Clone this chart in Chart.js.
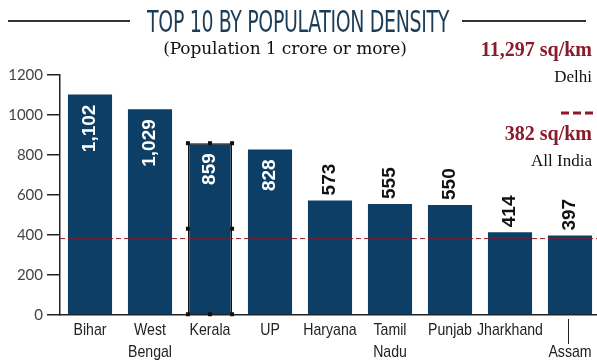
<!DOCTYPE html>
<html>
<head>
<meta charset="utf-8">
<script src="https://cdn.jsdelivr.net/npm/chart.js@4"></script>
<style>
  html, body { margin: 0; padding: 0; background: #fff; }
  #wrap { position: relative; width: 597px; height: 364px; overflow: hidden; }
  #chart { position: absolute; left: 0; top: 0; }
  .txt { position: absolute; white-space: nowrap; line-height: 1; }
  .title {
    left: 0; width: 597px; top: 6px; text-align: center;
    font-family: "DejaVu Sans Condensed", sans-serif;
    font-size: 31px; color: #1c3d57;
  }
  .title span { display: inline-block; transform: scaleX(0.68); letter-spacing: -0.5px; }
  .rule { position: absolute; height: 1.5px; background: #333; top: 20px; }
  .sub {
    left: 0; width: 570px; top: 40px; text-align: center;
    font-family: "DejaVu Serif", serif; font-size: 17px; color: #111; letter-spacing: -0.1px;
  }
  .red { right: 5px; font-family: "Liberation Serif", serif; font-weight: bold; font-size: 20px; color: #8b1a2b; }
  .blk { right: 5px; font-family: "Liberation Serif", serif; font-size: 17px; color: #111; }
</style>
</head>
<body>
<div id="wrap">
  <canvas id="chart" width="605" height="364"></canvas>
  <div class="rule" style="left:8px;width:122px"></div>
  <div class="rule" style="left:462px;width:124px"></div>
  <div class="txt title"><span>TOP 10 BY POPULATION DENSITY</span></div>
  <div class="txt sub">(Population 1 crore or more)</div>
  <div class="txt red" style="top:39px">11,297 sq/km</div>
  <div class="txt blk" style="top:68px">Delhi</div>
  <div class="txt red" style="top:123px">382 sq/km</div>
  <div class="txt blk" style="top:152px">All India</div>
</div>
<script>
'use strict';

/* ─── 데이터 ─── */
var states = [['Bihar'], ['West', 'Bengal'], ['Kerala'], ['UP'], ['Haryana'],
              ['Tamil', 'Nadu'], ['Punjab'], ['Jharkhand'], ['', 'Assam']];
var densities = [1102, 1029, 859, 828, 573, 555, 550, 414, 397];
var yTicks = [0, 200, 400, 600, 800, 1000, 1200];
var allIndia = 382;
var highlighted = 2; // Kerala (선택 표시)

var BAR = '#0d3f66';
var RED = '#8b1a2b';

/* ─── 막대 값 라벨, 전국 평균선, x 라벨 ─── */
var overlay = {
  id: 'overlay',
  afterDatasetsDraw: function (chart) {
    var ctx = chart.ctx;
    var area = chart.chartArea;
    var y = chart.scales.y;
    var x = chart.scales.x;
    var meta = chart.getDatasetMeta(0);

    // 전국 평균 점선
    var ly = y.getPixelForValue(allIndia);
    ctx.save();
    ctx.strokeStyle = RED;
    ctx.lineWidth = 1;
    ctx.setLineDash([5, 3]);
    ctx.beginPath();
    ctx.moveTo(area.left, ly);
    ctx.lineTo(area.right, ly);
    ctx.stroke();

    // 범례 대시
    ctx.lineWidth = 3;
    ctx.setLineDash([8, 4]);
    ctx.beginPath();
    ctx.moveTo(561, 113);
    ctx.lineTo(593, 113);
    ctx.stroke();
    ctx.restore();

    // 값 라벨 (세로)
    ctx.save();
    ctx.font = 'bold 19px "Liberation Sans", Arial, sans-serif';
    ctx.textBaseline = 'middle';
    for (var i = 0; i < densities.length; i++) {
      var bar = meta.data[i];
      var v = densities[i];
      var txt = v.toLocaleString('en-US');
      ctx.save();
      if (v >= 800) {
        ctx.translate(bar.x, bar.y + 10);
        ctx.rotate(-Math.PI / 2);
        ctx.textAlign = 'right';
        ctx.fillStyle = '#fff';
      } else {
        ctx.translate(bar.x, bar.y - 5);
        ctx.rotate(-Math.PI / 2);
        ctx.textAlign = 'left';
        ctx.fillStyle = '#111';
      }
      ctx.fillText(txt, 0, 0);
      ctx.restore();
    }
    ctx.restore();

    // x 라벨 (좁은 글꼴 흉내)
    ctx.save();
    ctx.font = '17px "Liberation Sans", Arial, sans-serif';
    ctx.fillStyle = '#222';
    ctx.textAlign = 'center';
    ctx.textBaseline = 'alphabetic';
    for (var n = 0; n < states.length; n++) {
      var px = x.getPixelForTick(n);
      for (var j = 0; j < states[n].length; j++) {
        ctx.save();
        ctx.translate(px, area.bottom + 20 + j * 22);
        ctx.scale(0.83, 1);
        ctx.fillText(states[n][j], 0, 0);
        ctx.restore();
      }
    }
    ctx.restore();

    // Assam 지시선
    var last = meta.data[densities.length - 1];
    ctx.save();
    ctx.strokeStyle = '#222';
    ctx.lineWidth = 1;
    ctx.beginPath();
    ctx.moveTo(last.x - 1.5, area.bottom + 4);
    ctx.lineTo(last.x - 1.5, area.bottom + 29);
    ctx.stroke();
    ctx.restore();

    // Kerala 선택 핸들
    var k = meta.data[highlighted];
    var l = k.x - k.width / 2, r = k.x + k.width / 2;
    var t = k.y, b = k.base, m = (t + b) / 2;
    var pts = [[l, t], [k.x, t], [r, t], [l, m], [r, m], [l, b], [k.x, b], [r, b]];
    ctx.save();
    ctx.fillStyle = '#111';
    for (var p = 0; p < pts.length; p++) {
      ctx.fillRect(pts[p][0] - 2, pts[p][1] - 2, 4, 4);
    }
    ctx.restore();
  }
};

var borderColors = densities.map(function (_, i) { return i === highlighted ? '#111' : BAR; });
var borderWidths = densities.map(function (_, i) { return i === highlighted ? 1.5 : 0; });

new Chart(document.getElementById('chart'), {
  type: 'bar',
  data: {
    labels: states,
    datasets: [{
      data: densities,
      backgroundColor: BAR,
      borderColor: borderColors,
      borderWidth: borderWidths,
      categoryPercentage: 1,
      barPercentage: 0.735
    }]
  },
  options: {
    responsive: false,
    animation: false,
    devicePixelRatio: 1,
    layout: { padding: { top: 75, right: 5, left: 0, bottom: 0 } },
    plugins: { legend: { display: false }, tooltip: { enabled: false } },
    scales: {
      x: {
        grid: { display: false },
        border: { display: true, color: '#222', width: 1.5 },
        ticks: { display: false },
        afterFit: function (s) { s.height = 49; }
      },
      y: {
        min: 0, max: 1200,
        afterBuildTicks: function (s) { s.ticks = yTicks.map(function (v) { return { value: v }; }); },
        grid: { drawOnChartArea: false, drawTicks: true, tickLength: 13, color: '#222', lineWidth: 1.5 },
        border: { display: true, color: '#222', width: 1.5 },
        ticks: {
          color: '#444', padding: 4, font: { family: 'Lato', size: 15 },
          callback: function (v) { return String(v); }
        },
        afterFit: function (s) { s.width = 60; }
      }
    }
  },
  plugins: [overlay]
});
</script>
</body>
</html>
